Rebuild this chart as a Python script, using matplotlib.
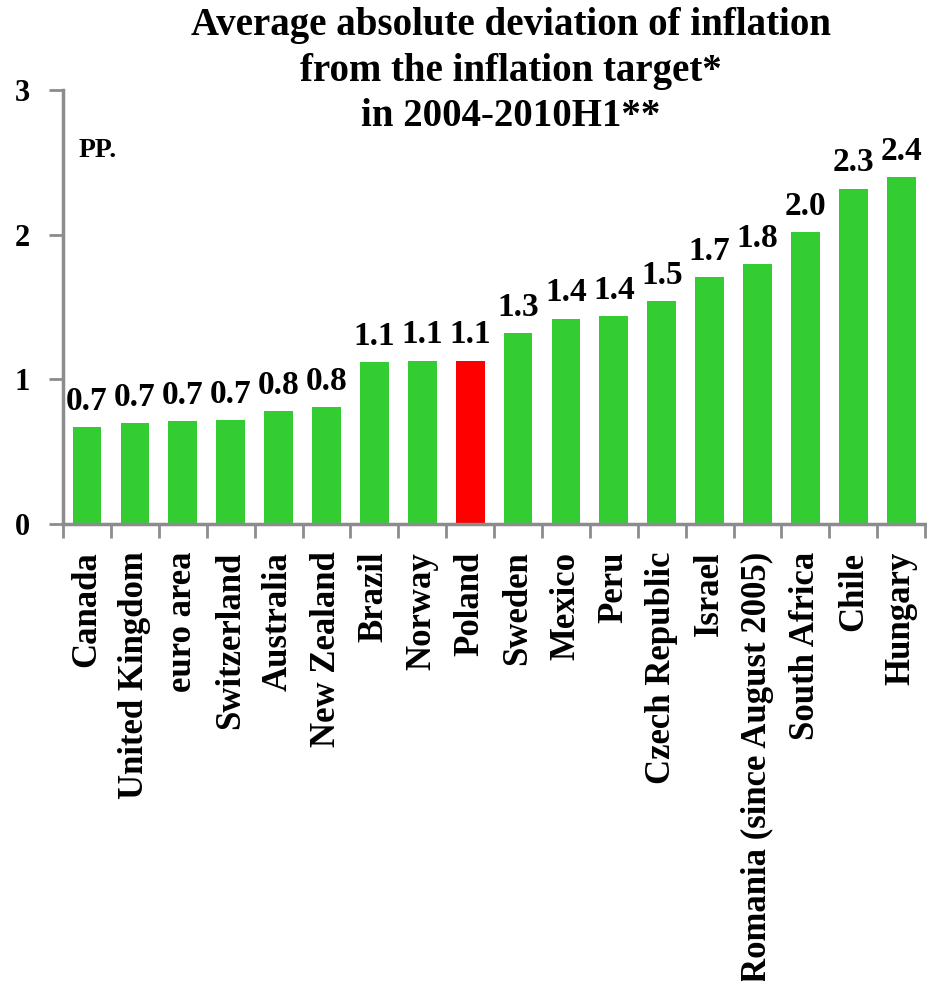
import numpy as np
import matplotlib.pyplot as plt

# -----Data-----
countries = ['Canada', 'United Kingdom', 'euro area', 'Switzerland', 'Australia',
             'New Zealand', 'Brazil', 'Norway', 'Poland', 'Sweden', 'Mexico', 'Peru',
             'Czech Republic', 'Israel', 'Romania (since August 2005)', 'South Africa',
             'Chile', 'Hungary']
deviation = [0.67, 0.70, 0.71, 0.72, 0.78, 0.81, 1.12, 1.13, 1.13, 1.32, 1.42, 1.44,
             1.54, 1.71, 1.80, 2.02, 2.32, 2.40]
highlight = 'Poland'

title_lines = ['Average absolute deviation of inflation',
               'from the inflation target*',
               'in 2004-2010H1**']

plt.rcParams['font.family'] = ['Liberation Serif', 'DejaVu Serif']
plt.rcParams['font.weight'] = 'bold'

fig = plt.figure(figsize=(9.27, 9.81), dpi=100)
ax = fig.add_axes([0.068, 0.466, 0.930, 0.442])

x = np.arange(len(countries))
colors = ['#FF0000' if c == highlight else '#33CC33' for c in countries]
bars = ax.bar(x, deviation, width=0.6, color=colors)

for xi, v in zip(x, deviation):
    ax.text(xi, v + 0.07, f'{v:.1f}', ha='center', va='bottom',
            fontsize=24, fontweight='bold')

ax.set_xlim(-0.5, len(countries) - 0.5)
ax.set_ylim(0, 3)
ax.set_yticks([0, 1, 2, 3])
ax.set_yticklabels(['0', '1', '2', '3'], fontsize=22, fontweight='bold')

# ticks between categories on the x axis
ax.set_xticks(np.arange(-0.5, len(countries), 1.0))
ax.set_xticklabels([])
ax.set_xticks(x, minor=True)
ax.set_xticklabels(countries, minor=True, rotation=90, fontsize=25,
                   fontweight='bold', va='top', ha='center')
ax.tick_params(axis='x', which='minor', length=0, pad=20)
ax.tick_params(axis='x', which='major', length=10, width=2, color='#8C8C8C')
ax.tick_params(axis='y', length=10, width=2, color='#8C8C8C', pad=14)

for side in ['top', 'right']:
    ax.spines[side].set_visible(False)
for side in ['left', 'bottom']:
    ax.spines[side].set_color('#8C8C8C')
    ax.spines[side].set_linewidth(2.5)

ax.text(0.018, 0.86, 'PP.', transform=ax.transAxes, fontsize=20,
        fontweight='bold', ha='left', va='center')

# three title lines, placed by baseline
for line, yy in zip(title_lines, [35, 81, 126]):
    fig.text(0.551, 1 - yy / 981, line, ha='center', va='baseline',
             fontsize=28, fontweight='bold')

fig.savefig('out.png', dpi=100)
